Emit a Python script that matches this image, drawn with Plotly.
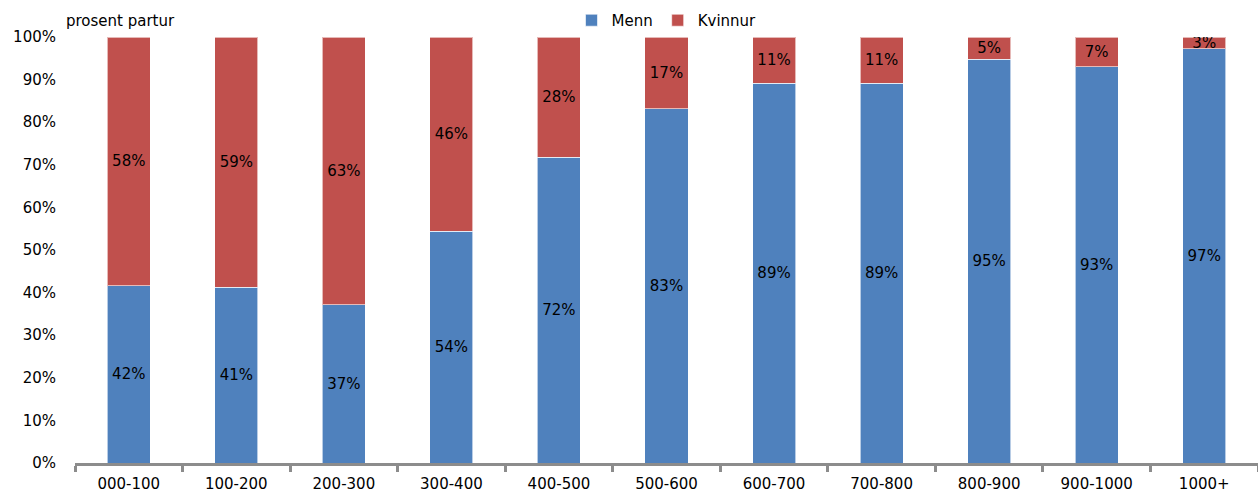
import plotly.graph_objects as go

categories = ["000-100", "100-200", "200-300", "300-400", "400-500", "500-600",
              "600-700", "700-800", "800-900", "900-1000", "1000+"]
menn = [41.6, 41.2, 37.1, 54.4, 71.8, 83.1, 89.2, 89.2, 94.8, 93.0, 97.2]
kvinnur = [58.4, 58.8, 62.9, 45.6, 28.2, 16.9, 10.8, 10.8, 5.2, 7.0, 2.8]
y_ticks = list(range(0, 101, 10))

FONT = "Verdana, DejaVu Sans, sans-serif"

fig = go.Figure()
for name, vals, color in [("Menn", menn, "#4F81BD"), ("Kvinnur", kvinnur, "#C0504D")]:
    fig.add_trace(go.Bar(
        x=categories,
        y=vals,
        name=name,
        marker=dict(color=color, line=dict(color="rgba(255,255,255,0.6)", width=1)),
        text=[f"{round(v)}%" for v in vals],
        textposition="inside",
        insidetextanchor="middle",
        textangle=0,
        textfont=dict(family=FONT, size=15, color="black"),
    ))

fig.update_layout(
    barmode="stack",
    bargap=0.6,
    width=1258,
    height=495,
    margin=dict(l=75, r=0, t=37, b=32, autoexpand=False),
    plot_bgcolor="white",
    paper_bgcolor="white",
    font=dict(family=FONT, size=15, color="black"),
    uniformtext=dict(minsize=15, mode="show"),
    legend=dict(
        orientation="h",
        x=0.5, xanchor="center",
        yref="container",
        y=0.992, yanchor="top",
        font=dict(family=FONT, size=15),
        itemwidth=30,
        traceorder="normal",
    ),
    xaxis=dict(
        automargin=False,
        showline=True,
        linecolor="#8C8C8C",
        linewidth=3,
        ticks="outside",
        tickson="boundaries",
        ticklen=6,
        tickwidth=3,
        tickcolor="#8C8C8C",
        showgrid=False,
        ticklabelstandoff=5,
        tickfont=dict(family=FONT, size=15),
    ),
    yaxis=dict(
        automargin=False,
        range=[0, 100],
        tickvals=y_ticks,
        ticktext=[f"{v}%" for v in y_ticks],
        showgrid=False,
        zeroline=False,
        showline=False,
        ticks="outside",
        ticklen=15,
        tickcolor="white",
        tickfont=dict(family=FONT, size=15),
    ),
    annotations=[dict(
        text="prosent partur",
        xref="paper", yref="paper",
        x=-0.009, y=1.0,
        xanchor="left", yanchor="bottom",
        yshift=5,
        showarrow=False,
        font=dict(family=FONT, size=15),
    )],
)

# the page body has a default 8px margin; drop it so the figure fills the window
fig.write_html("out.html", config={"displayModeBar": False},
               post_script="document.body.style.margin='0';")
